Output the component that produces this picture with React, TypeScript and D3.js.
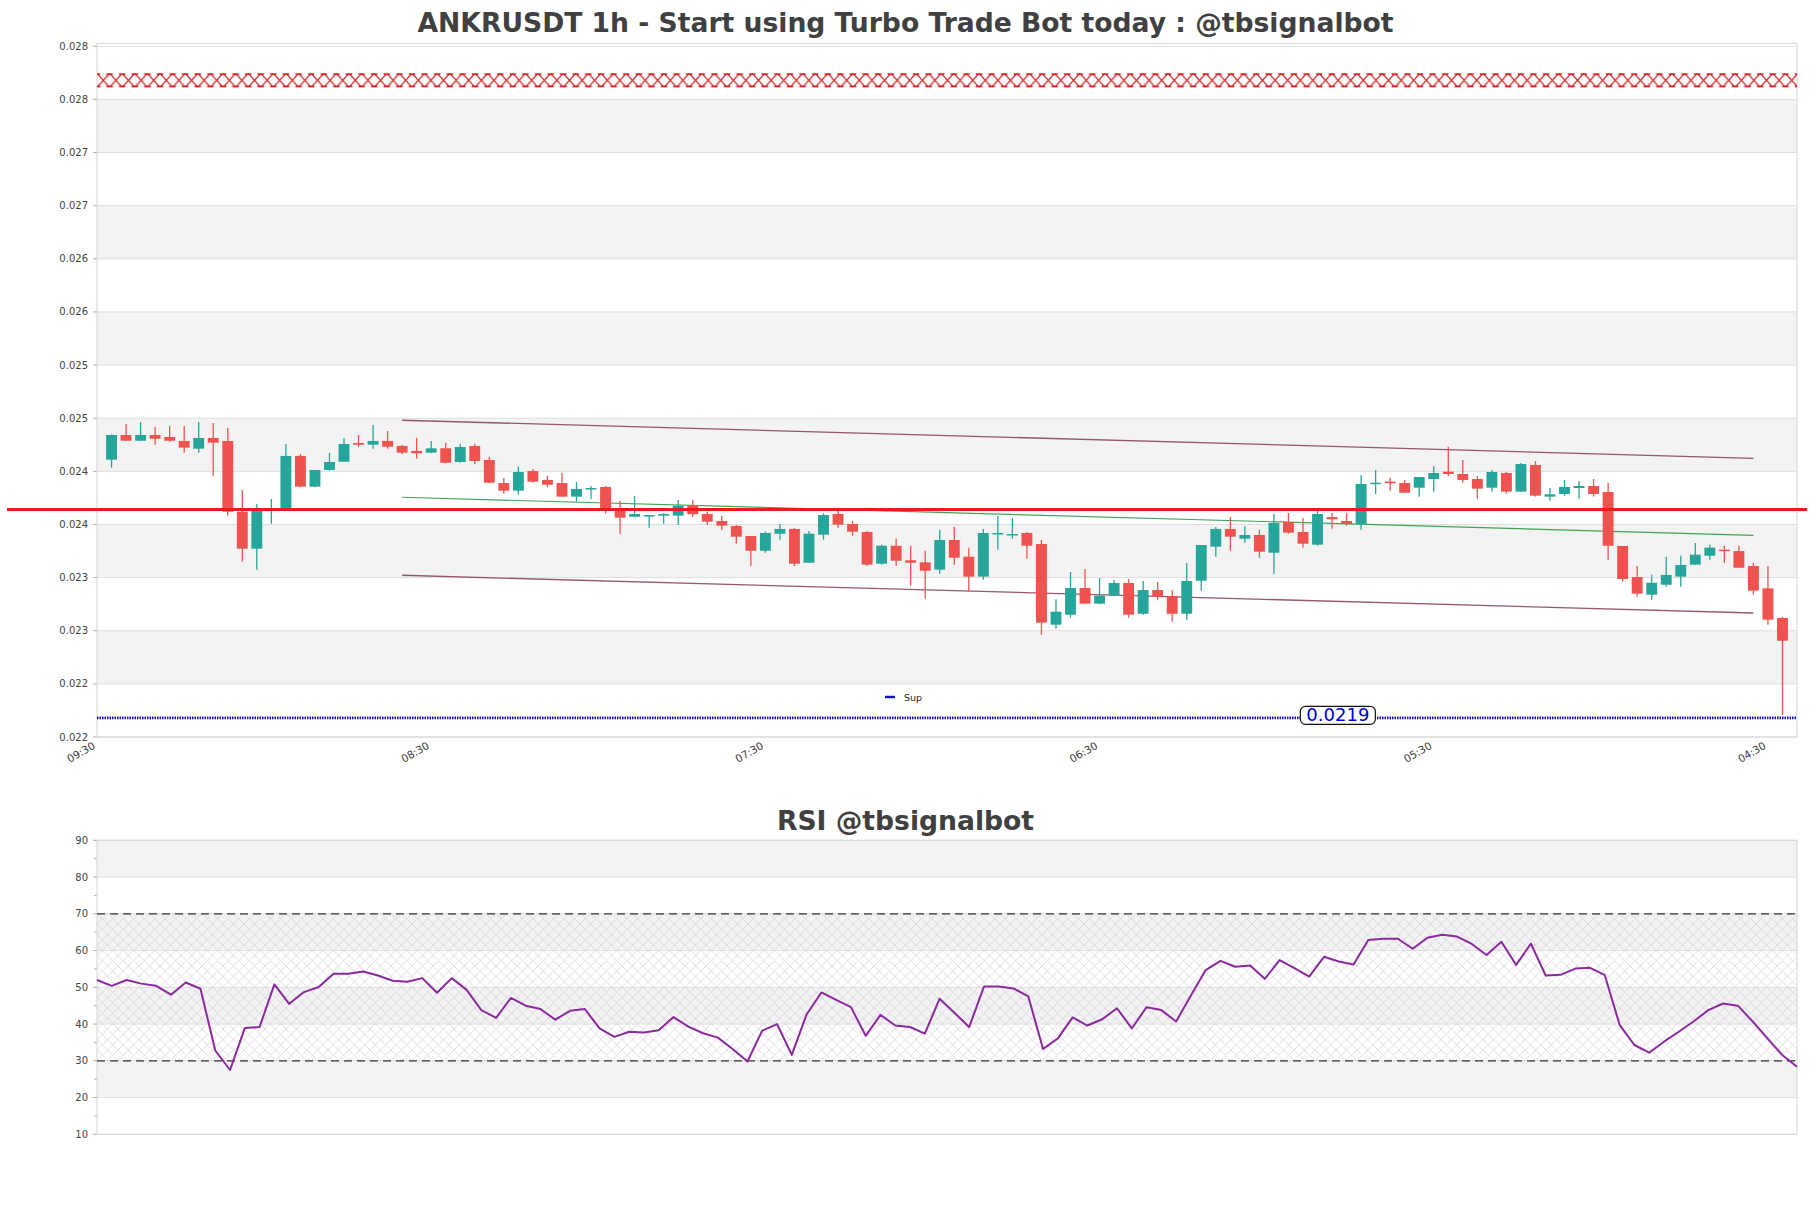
import React from "react";
import * as d3 from "d3";

const W = 1811;
const H = 1208;

// ---------- DATA ----------
const opens = [0.02433,0.024562,0.024508,0.024562,0.024543,0.024506,0.024433,0.024534,0.024506,0.02384,0.023492,0.023861,0.023856,0.024365,0.024076,0.024233,0.024311,0.024487,0.024471,0.024506,0.024459,0.024412,0.024396,0.024437,0.024308,0.024459,0.024327,0.02411,0.024038,0.024223,0.024139,0.02411,0.023982,0.024054,0.024073,0.023872,0.023793,0.023806,0.023803,0.023803,0.023897,0.023819,0.023753,0.023706,0.023612,0.023473,0.023633,0.023678,0.02336,0.023624,0.023819,0.023725,0.023649,0.023351,0.02352,0.023383,0.023364,0.023295,0.023574,0.023417,0.023229,0.023637,0.023628,0.02364,0.023536,0.022777,0.022871,0.023122,0.022975,0.02305,0.023169,0.02288,0.023103,0.023047,0.02288,0.023191,0.023511,0.023678,0.023586,0.023621,0.023454,0.023743,0.023649,0.02353,0.02379,0.023753,0.023725,0.02411,0.024123,0.02411,0.024066,0.024148,0.024217,0.024195,0.024148,0.024066,0.024205,0.024029,0.02428,0.023982,0.024007,0.024063,0.024082,0.024026,0.023518,0.023226,0.023059,0.023153,0.023229,0.023342,0.023426,0.023483,0.02347,0.023329,0.023119,0.02284];
const highs = [0.024569,0.024666,0.024684,0.024637,0.024647,0.024647,0.024684,0.024675,0.024628,0.024045,0.023913,0.02396,0.024477,0.024383,0.024233,0.024393,0.024534,0.024562,0.024656,0.0246,0.024468,0.024537,0.024506,0.02449,0.02448,0.02448,0.024358,0.024157,0.024264,0.024242,0.024179,0.024207,0.02412,0.024082,0.024082,0.023941,0.023988,0.023809,0.023825,0.02395,0.02395,0.02384,0.0238,0.023715,0.023612,0.023652,0.023725,0.023687,0.023659,0.023825,0.023856,0.023753,0.023659,0.02353,0.023586,0.02352,0.023473,0.023671,0.023699,0.023502,0.023678,0.0238,0.023781,0.023649,0.023574,0.023016,0.023273,0.023301,0.023216,0.023198,0.023207,0.023188,0.023179,0.023103,0.023358,0.023527,0.023696,0.02379,0.023706,0.023671,0.023819,0.023828,0.023781,0.023847,0.023828,0.023828,0.024186,0.024233,0.024157,0.024139,0.024167,0.02427,0.024452,0.024327,0.024176,0.024233,0.024214,0.024299,0.024317,0.024063,0.024139,0.024129,0.024148,0.02411,0.023518,0.023329,0.023247,0.023417,0.023426,0.023546,0.02353,0.02352,0.02352,0.023358,0.023329,0.022849];
const lows = [0.024254,0.024508,0.024505,0.024471,0.024499,0.024396,0.024396,0.024179,0.023803,0.02337,0.023295,0.023727,0.023856,0.02407,0.02407,0.024226,0.024311,0.024452,0.024433,0.024433,0.024381,0.024339,0.02439,0.024296,0.024301,0.024289,0.024108,0.02401,0.024,0.024113,0.024073,0.023982,0.023934,0.02396,0.023822,0.023633,0.023793,0.02369,0.023727,0.023715,0.023793,0.023715,0.023668,0.023539,0.023332,0.023454,0.023577,0.023329,0.02336,0.023577,0.02369,0.023614,0.023332,0.023342,0.023332,0.023144,0.023022,0.023257,0.023342,0.023087,0.0232,0.023483,0.023586,0.023398,0.022683,0.022739,0.022843,0.022975,0.022969,0.02305,0.022843,0.022871,0.023012,0.022805,0.022824,0.023097,0.023417,0.023473,0.023549,0.023407,0.023257,0.023633,0.023502,0.02352,0.02368,0.023709,0.023671,0.024007,0.024035,0.024019,0.023982,0.024029,0.024176,0.024113,0.023963,0.024029,0.02401,0.024029,0.023982,0.023944,0.023991,0.023963,0.023982,0.023389,0.023182,0.02304,0.023012,0.023134,0.023134,0.023342,0.023389,0.02336,0.023313,0.023059,0.022777,0.021927];
const closes = [0.024562,0.024508,0.024562,0.024527,0.024508,0.024443,0.024534,0.02449,0.02384,0.023492,0.023866,0.023866,0.024365,0.024076,0.024233,0.024308,0.024477,0.024471,0.024506,0.024452,0.024396,0.02439,0.024437,0.024301,0.024449,0.024317,0.024113,0.024038,0.024214,0.024123,0.024094,0.023982,0.024054,0.024063,0.023863,0.023784,0.023819,0.023809,0.023819,0.023897,0.023816,0.023746,0.023709,0.023605,0.023473,0.02364,0.023678,0.023351,0.023633,0.023809,0.023718,0.023652,0.023342,0.02352,0.023379,0.02336,0.023285,0.023574,0.023407,0.023229,0.02364,0.02364,0.02363,0.02352,0.022796,0.022899,0.023122,0.022975,0.02305,0.023169,0.022871,0.023103,0.02304,0.02288,0.023188,0.023527,0.023678,0.023605,0.023621,0.023464,0.023734,0.023643,0.023539,0.023819,0.023769,0.023725,0.024101,0.024113,0.024108,0.024019,0.024167,0.024205,0.024195,0.024139,0.024057,0.024214,0.024029,0.024289,0.023991,0.024004,0.024073,0.024082,0.024007,0.02352,0.023207,0.023069,0.023172,0.023245,0.023339,0.023436,0.023502,0.023473,0.023313,0.023097,0.022824,0.022626];

const rsiValues = [52.0,50.4,52.0,51.0,50.4,48.0,51.3,49.6,32.8,27.5,38.9,39.2,50.8,45.5,48.7,50.1,53.7,53.7,54.3,53.2,51.8,51.5,52.5,48.5,52.5,49.3,43.8,41.7,47.1,45.0,44.1,41.2,43.6,44.1,38.8,36.5,37.9,37.7,38.3,41.9,39.3,37.5,36.3,33.2,29.8,38.2,40.0,31.6,42.6,48.6,46.6,44.6,36.8,42.5,39.6,39.2,37.4,46.9,43.1,39.2,50.2,50.2,49.7,47.5,33.2,36.1,41.8,39.6,41.3,44.3,38.8,44.6,43.8,40.7,47.8,54.7,57.2,55.6,55.9,52.3,57.4,55.2,52.9,58.3,57.0,56.2,62.9,63.2,63.2,60.5,63.5,64.3,63.8,61.8,58.8,62.4,56.1,61.9,53.2,53.4,55.1,55.3,53.3,39.8,34.3,32.2,35.2,37.9,40.7,43.8,45.6,45.0,40.7,36.1,31.6,28.4];

const priceTicks = [0.02172,0.02222,0.02272,0.02322,0.02372,0.02422,0.02472,0.02522,0.02572,0.02622,0.02672,0.02722,0.02772,0.02822];
const xTickIndex = [-1, 22, 45, 68, 91, 114];
const xTickLabels = ["09:30", "08:30", "07:30", "06:30", "05:30", "04:30"];
const rsiTicks = [10, 20, 30, 40, 50, 60, 70, 80, 90];
const rsiMinorTicks = [15, 25, 35, 45, 55, 65, 75, 85];

const resistanceZone = [0.027834, 0.027966];
const pivotLevel = 0.02386;
const supportLevel = 0.0219;
const channelIdx = [20, 113];
const channelUpper = [0.024701, 0.024343];
const channelMid = [0.023976, 0.023618];
const channelLower = [0.023242, 0.022887];
const rsiUpper = 70;
const rsiLower = 30;

const mainTitle = "ANKRUSDT 1h - Start using Turbo Trade Bot today : @tbsignalbot";
const rsiTitle = "RSI @tbsignalbot";

// ---------- LAYOUT ----------
const PL = 97, PR = 1797;
const MT = 43.3, MB = 737;
const RT = 840.3, RB = 1134.3;
const FONT = "DejaVu Sans";

const GREEN = "#26a69a";
const RED = "#ef5350";

export default function App() {
  const x = d3.scaleLinear().domain([-1, opens.length]).range([PL, PR]);
  const y = d3.scaleLinear().domain([priceTicks[0], priceTicks[priceTicks.length - 1]]).range([MB, 46.3]);
  const xr = d3.scaleLinear().domain([0, rsiValues.length - 1]).range([PL, PR]);
  const yr = d3.scaleLinear().domain([10, 90]).range([RB, RT]);
  const fmtP = d3.format(".3f");
  const fmtS = d3.format(".4f");
  const step = x(1) - x(0);
  const bw = step * 0.75;

  const rsiLine = d3.line<number>().x((_, i) => xr(i)).y((d) => yr(d));

  const bands: JSX.Element[] = [];
  for (let k = 1; k + 1 < priceTicks.length; k += 2) {
    bands.push(
      <rect key={"b" + k} x={PL} width={PR - PL} y={y(priceTicks[k + 1])} height={y(priceTicks[k]) - y(priceTicks[k + 1])} fill="#f3f3f3" />
    );
  }
  const rsiBands: JSX.Element[] = [];
  for (let k = 1; k + 1 < rsiTicks.length; k += 2) {
    rsiBands.push(
      <rect key={"rb" + k} x={PL} width={PR - PL} y={yr(rsiTicks[k + 1])} height={yr(rsiTicks[k]) - yr(rsiTicks[k + 1])} fill="#f3f3f3" />
    );
  }

  const rzTop = y(resistanceZone[1]);
  const rzBot = y(resistanceZone[0]);
  const rzH = rzBot - rzTop;
  const pw = 12.6;
  const RC = "#d41414";

  const supY = y(supportLevel);
  const labelCx = x(84.4);

  return (
    <svg width={W} height={H} style={{ position: "absolute", left: 0, top: 0, background: "#fff" }} fontFamily={FONT}>
      <defs>
        <pattern id="resHatch" patternUnits="userSpaceOnUse" x={PL} y={rzTop} width={pw} height={rzH}>
          <line x1={0} y1={0} x2={pw} y2={rzH} stroke={RC} strokeWidth={1.1} />
          <line x1={pw} y1={0} x2={0} y2={rzH} stroke={RC} strokeWidth={1.1} />
          <line x1={-3.2} y1={0.8} x2={3.2} y2={0.8} stroke={RC} strokeWidth={1.6} />
          <line x1={pw - 3.2} y1={0.8} x2={pw + 3.2} y2={0.8} stroke={RC} strokeWidth={1.6} />
          <line x1={-3.2} y1={rzH - 0.8} x2={3.2} y2={rzH - 0.8} stroke={RC} strokeWidth={1.6} />
          <line x1={pw - 3.2} y1={rzH - 0.8} x2={pw + 3.2} y2={rzH - 0.8} stroke={RC} strokeWidth={1.6} />
        </pattern>
        <pattern id="rsiHatch" patternUnits="userSpaceOnUse" x={PL} y={0} width={10.5} height={10.5}>
          <line x1={0} y1={0} x2={10.5} y2={10.5} stroke="#cbc2d6" strokeWidth={0.65} />
          <line x1={10.5} y1={0} x2={0} y2={10.5} stroke="#cbc2d6" strokeWidth={0.65} />
        </pattern>
      </defs>

      {/* Titles */}
      <text x={W / 2} y={32} textAnchor="middle" fontSize={26.6} fontWeight="bold" fill="#404040">{mainTitle}</text>
      <text x={W / 2} y={830} textAnchor="middle" fontSize={26.6} fontWeight="bold" fill="#404040">{rsiTitle}</text>

      {/* ---------- main panel ---------- */}
      {bands}
      {priceTicks.map((t, i) => (
        <g key={"pt" + i}>
          <line x1={PL} x2={PR} y1={y(t)} y2={y(t)} stroke="#dedede" strokeWidth={1} />
          <line x1={PL - 4} x2={PL} y1={y(t)} y2={y(t)} stroke="#999" strokeWidth={0.8} />
          <text x={PL - 9} y={y(t) + 3.5} textAnchor="end" fontSize={10} fill="#444">{fmtP(t)}</text>
        </g>
      ))}
      <rect x={PL} y={MT} width={PR - PL} height={MB - MT} fill="none" stroke="#d6d6d6" strokeWidth={1} />

      {/* resistance zone */}
      <rect x={PL} y={rzTop} width={PR - PL} height={rzH} fill="url(#resHatch)" />

      {/* channel */}
      <line x1={x(channelIdx[0])} x2={x(channelIdx[1])} y1={y(channelUpper[0])} y2={y(channelUpper[1])} stroke="#7a2e4c" strokeOpacity={0.8} strokeWidth={1.3} />
      <line x1={x(channelIdx[0])} x2={x(channelIdx[1])} y1={y(channelLower[0])} y2={y(channelLower[1])} stroke="#7a2e4c" strokeOpacity={0.8} strokeWidth={1.3} />
      <line x1={x(channelIdx[0])} x2={x(channelIdx[1])} y1={y(channelMid[0])} y2={y(channelMid[1])} stroke="#2f9a45" strokeOpacity={0.9} strokeWidth={1.2} />

      {/* candles */}
      {opens.map((o, i) => {
        const c = closes[i];
        const up = c >= o;
        const col = up ? GREEN : RED;
        const cx = x(i);
        const top = y(Math.max(o, c));
        const bh = Math.max(1.5, Math.abs(y(o) - y(c)));
        return (
          <g key={"c" + i}>
            <line x1={cx} x2={cx} y1={y(highs[i])} y2={y(lows[i])} stroke={col} strokeWidth={1.3} />
            <rect x={cx - bw / 2} y={top} width={bw} height={bh} fill={col} />
          </g>
        );
      })}

      {/* pivot line */}
      <line x1={7} x2={1807} y1={y(pivotLevel)} y2={y(pivotLevel)} stroke="#ec1c1c" strokeWidth={3} />

      {/* support */}
      <line x1={PL} x2={PR} y1={supY} y2={supY} stroke="#1010c0" strokeWidth={2.6} strokeDasharray="1.5 1" />
      <rect x={labelCx - 37.5} y={supY - 11.5} width={75} height={18} rx={5} ry={5} fill="#fff" stroke="#111" strokeWidth={1.2} />
      <text x={labelCx} y={supY + 3.5} textAnchor="middle" fontSize={18} fill="#0000dd">{fmtS(supportLevel)}</text>

      {/* legend */}
      <line x1={885} x2={895} y1={697} y2={697} stroke="#1414c8" strokeWidth={2.5} />
      <text x={904} y={700.5} fontSize={9.5} fill="#222">Sup</text>

      {/* x tick labels */}
      {xTickIndex.map((t, i) => (
        <text key={"xt" + i} transform={`translate(${x(t) - 5},${MB + 4}) rotate(-30)`} textAnchor="end" fontSize={10.5} fill="#3a3a3a" dy="0.75em">{xTickLabels[i]}</text>
      ))}

      {/* ---------- RSI panel ---------- */}
      {rsiBands}
      <rect x={PL} y={yr(rsiUpper)} width={PR - PL} height={yr(rsiLower) - yr(rsiUpper)} fill="url(#rsiHatch)" opacity={0.85} />
      {rsiTicks.map((t, i) => (
        <g key={"rt" + i}>
          <line x1={PL} x2={PR} y1={yr(t)} y2={yr(t)} stroke="#dedede" strokeWidth={1} />
          <line x1={PL - 4} x2={PL} y1={yr(t)} y2={yr(t)} stroke="#999" strokeWidth={0.8} />
          <text x={PL - 9} y={yr(t) + 3.5} textAnchor="end" fontSize={10} fill="#444">{t}</text>
        </g>
      ))}
      {rsiMinorTicks.map((t, i) => (
        <line key={"rm" + i} x1={PL - 3} x2={PL} y1={yr(t)} y2={yr(t)} stroke="#999" strokeWidth={0.8} />
      ))}
      <rect x={PL} y={RT} width={PR - PL} height={RB - RT} fill="none" stroke="#d6d6d6" strokeWidth={1} />
      <line x1={PL} x2={PR} y1={yr(rsiUpper)} y2={yr(rsiUpper)} stroke="#333" strokeWidth={1.3} strokeDasharray="8 5" />
      <line x1={PL} x2={PR} y1={yr(rsiLower)} y2={yr(rsiLower)} stroke="#333" strokeWidth={1.3} strokeDasharray="8 5" />
      <path d={rsiLine(rsiValues) || ""} fill="none" stroke="#8a2a9c" strokeWidth={2} strokeLinejoin="round" />
    </svg>
  );
}
